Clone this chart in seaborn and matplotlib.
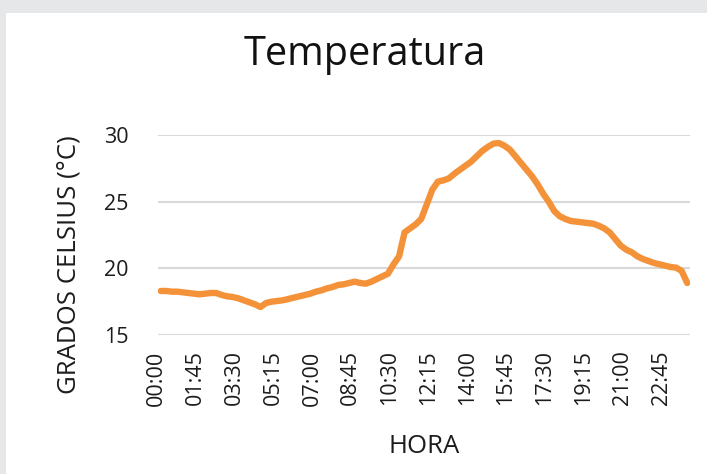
import matplotlib
matplotlib.use("Agg")
import matplotlib.pyplot as plt
import matplotlib.transforms as mtransforms
from matplotlib.patches import Rectangle
import numpy as np
import pandas as pd
import seaborn as sns

# Quarter-hour readings over one day (°C)
temperatura = [
    18.3, 18.3, 18.25, 18.25, 18.2, 18.15, 18.1, 18.05, 18.1, 18.15,
    18.15, 18.0, 17.9, 17.85, 17.75, 17.6, 17.45, 17.3, 17.1, 17.4,
    17.5, 17.55, 17.6, 17.7, 17.8, 17.9, 18.0, 18.1, 18.25, 18.35,
    18.5, 18.6, 18.75, 18.8, 18.9, 19.0, 18.9, 18.85, 19.0, 19.2,
    19.4, 19.6, 20.3, 20.9, 22.7, 23.0, 23.3, 23.7, 24.8, 25.9,
    26.5, 26.6, 26.75, 27.1, 27.4, 27.7, 28.0, 28.4, 28.8, 29.1,
    29.35, 29.4, 29.2, 28.9, 28.4, 27.9, 27.4, 26.9, 26.3, 25.6,
    25.0, 24.3, 23.9, 23.7, 23.55, 23.5, 23.45, 23.4, 23.35, 23.2,
    23.0, 22.7, 22.2, 21.7, 21.4, 21.2, 20.9, 20.7, 20.55, 20.4,
    20.3, 20.2, 20.1, 20.05, 19.8, 18.9,
]
hora = pd.date_range("2000-01-01 00:00", periods=len(temperatura), freq="15min").strftime("%H:%M").tolist()

tick_labels = ["00:00", "01:45", "03:30", "05:15", "07:00", "08:45", "10:30",
               "12:15", "14:00", "15:45", "17:30", "19:15", "21:00", "22:45"]
y_ticks = [15, 20, 25, 30]

df = pd.DataFrame({"idx": np.arange(len(temperatura)), "hora": hora, "temp": temperatura})

sns.set_theme(style="white")
plt.rcParams["font.family"] = ["Open Sans", "DejaVu Sans"]

TEXT = "#1c1c1c"
W, H = 707, 474
fig = plt.figure(figsize=(W / 100, H / 100), dpi=100, facecolor="#e6e7e9")
fig.patches.append(Rectangle((6 / W, 0), 1, 1 - 13 / H, transform=fig.transFigure,
                             facecolor="white", edgecolor="none", zorder=-1))

ax = fig.add_axes([158 / W, 1 - 335 / H, (690 - 158) / W, (335 - 135) / H])
ax.set_facecolor("none")

sns.lineplot(data=df, x="idx", y="temp", ax=ax, color="#F4923A", linewidth=4.6,
             solid_capstyle="round", solid_joinstyle="round", zorder=3)

ax.set_xlim(-0.5, len(temperatura) - 0.5)
ax.set_ylim(15, 30)
ax.set_yticks(y_ticks)
ax.set_yticklabels([str(v) for v in y_ticks])
tick_pos = [hora.index(t) for t in tick_labels]
ax.set_xticks(tick_pos)
ax.set_xticklabels(tick_labels, rotation=90)

for s in ax.spines.values():
    s.set_visible(False)
ax.grid(axis="y", color="#d9d9d9", linewidth=1.5)
ax.grid(axis="x", visible=False)
ax.set_axisbelow(True)

ax.tick_params(axis="y", length=0, pad=21, labelsize=15.5, labelcolor=TEXT)
ax.tick_params(axis="x", length=0, pad=11, labelsize=15.5, labelcolor=TEXT)
shift = mtransforms.ScaledTranslation(-4 / 100, 0, fig.dpi_scale_trans)
for lab in ax.get_xticklabels():
    lab.set_transform(lab.get_transform() + shift)

ax.set_xlabel("HORA", fontsize=18.5, color=TEXT)
ax.xaxis.label.set_va("baseline")
ax.xaxis.set_label_coords(0.5, (335 - 453) / 200)

ax.set_ylabel("GRADOS CELSIUS (°C)", fontsize=18.5, color=TEXT)
ax.yaxis.set_label_coords((82 - 158) / 532, (335 - 265) / 200)

ax.set_title("Temperatura", fontsize=28.5, color="#111111", va="baseline",
             x=(365 - 158) / 532, y=(335 - 73) / 200)

fig.savefig("out.png", dpi=100, facecolor=fig.get_facecolor())
